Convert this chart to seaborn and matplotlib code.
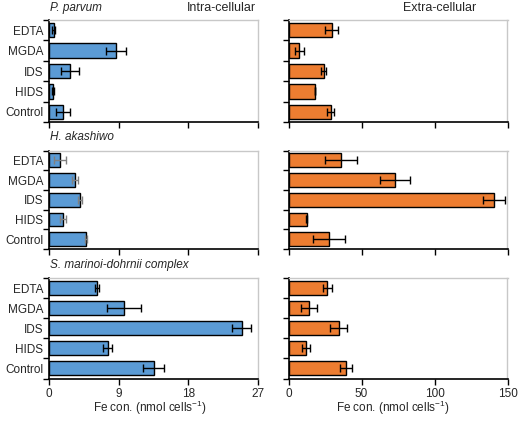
import numpy as np
import pandas as pd
import matplotlib
matplotlib.use("Agg")
import matplotlib.pyplot as plt
import seaborn as sns

treatments = ["EDTA", "MGDA", "IDS", "HIDS", "Control"]
species = ["P. parvum", "H. akashiwo", "S. marinoi-dohrnii complex"]

# intra-cellular Fe (left column), mean and error
intra_mean = [
    [0.6, 8.6, 2.7, 0.5, 1.85],
    [1.4, 3.35, 4.0, 1.8, 4.75],
    [6.2, 9.7, 24.9, 7.6, 13.5],
]
intra_err = [
    [0.2, 1.3, 1.15, 0.15, 0.9],
    [0.8, 0.35, 0.3, 0.4, 0.1],
    [0.25, 2.2, 1.2, 0.6, 1.3],
]
# extra-cellular Fe (right column)
extra_mean = [
    [29.5, 7.5, 24.2, 18.4, 28.8],
    [35.7, 73.0, 140.5, 12.4, 27.7],
    [26.5, 14.2, 34.3, 11.9, 39.6],
]
extra_err = [
    [4.6, 2.8, 1.8, 0.0, 2.5],
    [10.9, 10.3, 7.5, 0.3, 11.2],
    [3.0, 5.6, 5.6, 2.6, 4.0],
]

blue = "#5b9bd5"
orange = "#ed7d31"

sns.set_style("white")
plt.rcParams["font.family"] = ["Liberation Sans", "DejaVu Sans"]
plt.rcParams["font.size"] = 8.5
plt.rcParams["mathtext.fontset"] = "custom"
plt.rcParams["mathtext.rm"] = "Liberation Sans"
plt.rcParams["mathtext.it"] = "Liberation Sans:italic"

fig = plt.figure(figsize=(5.19, 4.22), dpi=100)

# axes boxes in pixels: (top, bottom)
rows_px = [(20, 122), (150.5, 249), (278, 378.5)]
cols_px = [(49, 258), (288.5, 507.5)]


def px_box(col, row):
    x0, x1 = cols_px[col]
    t, b = rows_px[row]
    return [x0 / 519, 1 - b / 422, (x1 - x0) / 519, (b - t) / 422]


for r in range(3):
    for c in range(2):
        ax = fig.add_axes(px_box(c, r))
        if c == 0:
            vals, errs, color, xmax, xt = intra_mean[r], intra_err[r], blue, 27, [0, 9, 18, 27]
        else:
            vals, errs, color, xmax, xt = extra_mean[r], extra_err[r], orange, 150, [0, 50, 100, 150]
        df = pd.DataFrame({"treatment": treatments, "fe": vals})
        sns.barplot(data=df, x="fe", y="treatment", color=color, orient="h",
                    width=0.7, edgecolor="black", linewidth=1.0, saturation=1,
                    ax=ax)
        ecol = "#808080" if (r == 1 and c == 0) else "black"
        ax.errorbar(vals, np.arange(len(treatments)), xerr=errs, fmt="none",
                    ecolor=ecol, elinewidth=1.0, capsize=3, capthick=1.0)
        ax.set_xlim(0, xmax)
        ax.set_ylim(4.5, -0.5)
        ax.set_xticks(xt)
        ax.set_yticks(range(len(treatments)))
        ax.set_yticks(np.arange(-0.5, 5, 1), minor=True)
        ax.tick_params(axis="y", which="major", length=0, pad=4, labelsize=8.5)
        ax.tick_params(axis="y", which="minor", length=4, width=1, color="black", left=True)
        ax.tick_params(axis="x", length=4, width=1, color="black", bottom=True,
                       labelsize=8.5, pad=3)
        if c == 1:
            ax.set_yticklabels([])
        if r < 2:
            ax.set_xticklabels([])
        ax.set_xlabel("")
        ax.set_ylabel("")
        for side in ["top", "right"]:
            ax.spines[side].set_color("#c8c8c8")
            ax.spines[side].set_linewidth(1.0)
        for side in ["left", "bottom"]:
            ax.spines[side].set_color("black")
            ax.spines[side].set_linewidth(1.2)

xlabel = "Fe con. (nmol cells$^{-1}$)"
fig.text(150 / 519, 1 - 408 / 422, xlabel, fontsize=8.5, va="center", ha="center")
fig.text(393 / 519, 1 - 408 / 422, xlabel, fontsize=8.5, va="center", ha="center")

title_y = [8, 137, 265]
for r in range(3):
    fig.text(50 / 519, 1 - title_y[r] / 422, species[r], style="italic",
             fontsize=8.5, va="center", ha="left")
fig.text(256 / 519, 1 - 8 / 422, "Intra-cellular", fontsize=9, va="center", ha="right")
fig.text(440 / 519, 1 - 8 / 422, "Extra-cellular", fontsize=9, va="center", ha="center")

fig.savefig("out.png", dpi=100)
